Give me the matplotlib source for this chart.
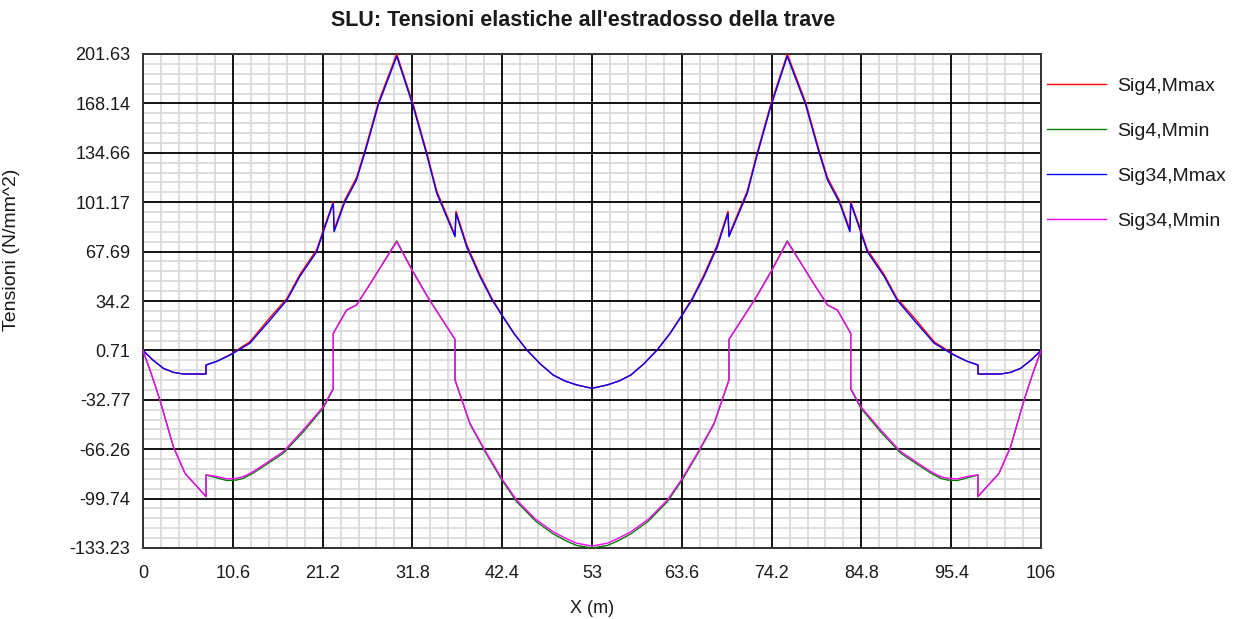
import matplotlib
matplotlib.use("Agg")
import matplotlib.pyplot as plt
from matplotlib.ticker import FixedLocator

# ---------------- data ----------------
title = "SLU: Tensioni elastiche all'estradosso della trave"
x_label = "X (m)"
y_label = "Tensioni (N/mm^2)"

x_ticks = [0, 10.6, 21.2, 31.8, 42.4, 53, 63.6, 74.2, 84.8, 95.4, 106]
x_tick_labels = ["0", "10.6", "21.2", "31.8", "42.4", "53", "63.6", "74.2", "84.8", "95.4", "106"]
y_ticks = [201.63, 168.14, 134.66, 101.17, 67.69, 34.2, 0.71, -32.77, -66.26, -99.74, -133.23]
y_tick_labels = ["201.63", "168.14", "134.66", "101.17", "67.69", "34.2", "0.71",
                 "-32.77", "-66.26", "-99.74", "-133.23"]

# abscissae for the Mmax envelopes (Sig4,Mmax and Sig34,Mmax)
x_max = [0, 1.2, 2.4, 3.6, 4.8, 7.44, 7.44, 8.8, 10.3, 12.6, 15.0, 17.0, 18.5, 20.5, 21.5,
         22.46, 22.56, 23.8, 25.2, 26.2, 27.8, 29.95, 31.9, 33.5, 34.67, 36.83, 36.95, 38.2,
         39.78, 41.2, 42.34, 43.8, 45.3, 46.9, 48.4, 49.8, 51.2, 53.0,
         54.8, 56.2, 57.6, 59.1, 60.7, 62.2, 63.66, 64.8, 66.22, 67.8, 69.05, 69.17, 71.33,
         72.5, 74.1, 76.05, 78.2, 79.8, 80.8, 82.2, 83.44, 83.54, 84.5, 85.5, 87.5, 89.0,
         91.0, 93.4, 95.7, 97.2, 98.56, 98.56, 101.2, 102.4, 103.6, 104.8, 106.0]

sig4_mmax = [0.7, -6.0, -11.4, -14.2, -15.3, -15.3, -9.2, -6.5, -2.0, 6.5, 23.0, 36.0, 52.0, 69.0,
             86.0, 101.5, 82.5, 102.5, 117.8, 136.5, 169.2, 201.63, 167.5, 134.8, 108.8, 79.0,
             95.0, 72.5, 52.0, 35.8, 25.2, 12.3, 1.2, -8.4, -15.9, -20.0, -22.7, -25.0,
             -22.7, -20.0, -15.9, -8.4, 1.2, 12.3, 25.2, 35.8, 52.0, 72.5, 95.0, 79.0, 108.8,
             134.8, 167.5, 201.63, 169.2, 136.5, 117.8, 102.5, 82.5, 101.5, 86.0, 69.0, 52.0,
             36.0, 23.0, 6.5, -2.0, -6.5, -9.2, -15.3, -15.3, -14.2, -11.4, -6.0, 0.7]

sig34_mmax = [0.7, -6.0, -11.4, -14.2, -15.3, -15.3, -9.2, -6.5, -2.4, 5.5, 21.3, 34.9, 50.7, 67.6,
              84.6, 100.4, 81.2, 101.0, 116.2, 134.8, 167.5, 200.0, 165.9, 133.2, 107.2, 77.8,
              93.6, 71.0, 50.7, 34.9, 24.7, 12.0, 1.0, -8.5, -15.9, -20.0, -22.7, -25.0,
              -22.7, -20.0, -15.9, -8.5, 1.0, 12.0, 24.7, 34.9, 50.7, 71.0, 93.6, 77.8, 107.2,
              133.2, 165.9, 200.0, 167.5, 134.8, 116.2, 101.0, 81.2, 100.4, 84.6, 67.6, 50.7,
              34.9, 21.3, 5.5, -2.4, -6.5, -9.2, -15.3, -15.3, -14.2, -11.4, -6.0, 0.7]

# abscissae for the Mmin envelopes (Sig4,Mmin and Sig34,Mmin)
x_min = [0, 1.0, 2.0, 3.58, 4.96, 7.44, 7.44, 8.6, 9.9, 11.0, 11.84, 13.0, 14.2, 16.56, 18.92,
         21.28, 22.46, 22.46, 24.04, 25.2, 26.6, 29.95, 31.8, 33.8, 36.83, 36.83, 38.6, 40.57,
         42.34, 44.1, 46.3, 48.4, 50.0, 51.2, 53.0,
         54.8, 56.0, 57.6, 59.7, 61.9, 63.66, 65.43, 67.4, 69.17, 69.17, 72.2, 74.2, 76.05,
         79.4, 80.8, 81.96, 83.54, 83.54, 84.72, 87.08, 89.44, 91.8, 93.0, 94.16, 95.0, 96.1,
         97.4, 98.56, 98.56, 101.04, 102.42, 104.0, 105.0, 106.0]

sig4_mmin = [0.7, -15.5, -33.0, -64.5, -82.6, -98.4, -83.7, -85.5, -87.5, -87.2, -86.0, -82.5,
             -78.0, -69.0, -54.5, -38.4, -25.5, 12.3, 28.1, 31.5, 43.9, 75.0, 55.0, 35.2, 8.2,
             -19.3, -49.3, -69.8, -87.0, -101.8, -114.8, -123.6, -128.6, -131.5, -133.2,
             -131.5, -128.6, -123.6, -114.8, -101.8, -87.0, -69.8, -49.3, -19.3, 8.2, 35.2,
             55.0, 75.0, 43.9, 31.5, 28.1, 12.3, -25.5, -38.4, -54.5, -69.0, -78.0, -82.5,
             -86.0, -87.2, -87.5, -85.5, -83.7, -98.4, -82.6, -64.5, -33.0, -15.5, 0.7]

sig34_mmin = [0.7, -15.5, -33.0, -64.5, -82.6, -98.4, -83.7, -84.6, -86.4, -86.0, -84.9, -81.5,
              -77.0, -67.9, -53.2, -37.4, -25.0, 12.3, 28.1, 31.5, 43.9, 74.4, 54.5, 34.9, 8.2,
              -19.3, -48.7, -69.0, -86.0, -100.7, -113.5, -122.2, -127.0, -130.0, -131.9,
              -130.0, -127.0, -122.2, -113.5, -100.7, -86.0, -69.0, -48.7, -19.3, 8.2, 34.9,
              54.5, 74.4, 43.9, 31.5, 28.1, 12.3, -25.0, -37.4, -53.2, -67.9, -77.0, -81.5,
              -84.9, -86.0, -86.4, -84.6, -83.7, -98.4, -82.6, -64.5, -33.0, -15.5, 0.7]

series_labels = ["Sig4,Mmax", "Sig4,Mmin", "Sig34,Mmax", "Sig34,Mmin"]
series_colors = ["#ff0000", "#008000", "#0000ff", "#ff00ff"]

# ---------------- figure ----------------
plt.rcParams['font.family'] = ['Liberation Sans', 'DejaVu Sans']
text_color = "#1a1a1a"

fig = plt.figure(figsize=(12.42, 6.19), dpi=100)
L, R, T, B = 143, 1041, 54, 548
W, H = 1242, 619
ax = fig.add_axes([L / W, 1 - B / H, (R - L) / W, (B - T) / H])

x0, x1 = 0, 106
y0, y1 = -133.23, 201.63
ax.set_xlim(x0, x1)
ax.set_ylim(y0, y1)

ax.xaxis.set_major_locator(FixedLocator(x_ticks))
ax.set_xticklabels(x_tick_labels)
ax.yaxis.set_major_locator(FixedLocator(y_ticks))
ax.set_yticklabels(y_tick_labels)

# light minor grid: 5 subdivisions per major division (drawn beneath the major grid)
x_minor = [x0 + i * (x1 - x0) / 50 for i in range(51) if i % 5 != 0]
y_minor = [y0 + i * (y1 - y0) / 50 for i in range(51) if i % 5 != 0]
ax.vlines(x_minor, y0, y1, colors='#d8d8d8', linewidth=1.2, zorder=0.1)
ax.hlines(y_minor, x0, x1, colors='#d8d8d8', linewidth=1.2, zorder=0.1)

ax.grid(which='major', color='black', linewidth=1.3)
ax.set_axisbelow(True)
ax.tick_params(which='both', length=0)
ax.tick_params(axis='y', pad=9, labelsize=13, colors=text_color)
ax.tick_params(axis='x', pad=12, labelsize=13, colors=text_color)
for s in ax.spines.values():
    s.set_color('#333333')
    s.set_linewidth(1.4)

series = [(x_max, sig4_mmax), (x_min, sig4_mmin), (x_max, sig34_mmax), (x_min, sig34_mmin)]
for (xs, ys), lab, col in zip(series, series_labels, series_colors):
    ax.plot(xs, ys, color=col, linewidth=1.0, label=lab, zorder=3)

ax.set_xlim(x0, x1)
ax.set_ylim(y0, y1)

ax.set_xlabel(x_label, fontsize=13, color=text_color)
ax.set_ylabel(y_label, fontsize=14, color=text_color)
ax.xaxis.set_label_coords(0.5, (B - 600) / (B - T))
ax.yaxis.set_label_coords((20 - L) / (R - L), (B - 250) / (B - T))

fig.text(583 / W, 1 - 20 / H, title, ha='center', va='center',
         fontsize=15.5, fontweight='bold', color=text_color)

leg = ax.legend(loc='upper left', bbox_to_anchor=(1047 / W, 1 - 77 / H),
                bbox_transform=fig.transFigure, frameon=False, fontsize=14,
                handlelength=3.05, handletextpad=0.57, labelspacing=1.42,
                borderaxespad=0, borderpad=0)
for t in leg.get_texts():
    t.set_color(text_color)

fig.savefig("out.png", dpi=100)
